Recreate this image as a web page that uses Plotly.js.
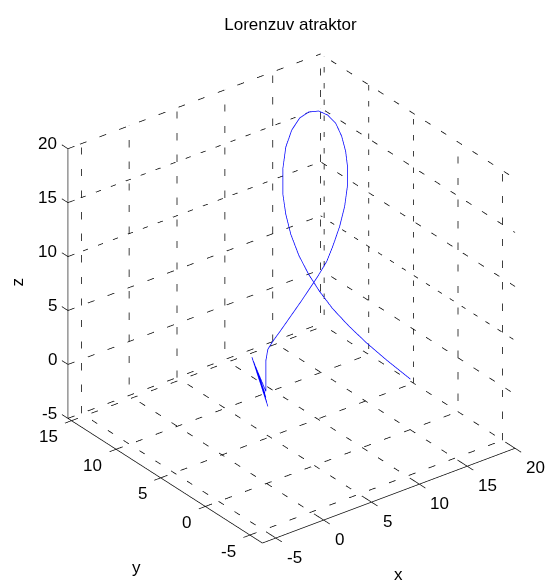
<!DOCTYPE html>
<html>
<head>
<meta charset="utf-8">
<script src="https://cdn.plot.ly/plotly-3.0.1.min.js"></script>
<style>html,body{margin:0;padding:0;background:#fff;}</style>
</head>
<body>
<div id="chart" style="width:547px;height:581px;"></div>
<script>
// Limits of the plot box
const xLim = [-6.4, 20];
const yLim = [-6.4, 15.4];
const zLim = [-5, 20];

// Tick values
const xTicks = [-5, 0, 5, 10, 15, 20];
const yTicks = [-5, 0, 5, 10, 15];
const zTicks = [-5, 0, 5, 10, 15, 20];

// Trajectory samples (x, y, z)
const trajX = [0.14, -1.53, 0.03, -1.32, -0.07, -1.11, -0.17, -1.43, -0.07, -0.07, -0.07,
  0.60, 1.59, 3.36, 5.02, 6.68, 8.34, 10.11, 11.87, 13.74, 15.30, 16.49, 17.48, 18.26,
  18.72, 18.98, 19.03, 18.87, 18.50, 17.57, 16.52, 15.12, 13.82, 12.73, 11.95, 11.49,
  11.33, 11.39, 11.76, 12.33, 13.01, 13.90, 15.10, 16.51, 18.13, 19.88];
const trajY = [0, 0, 0, 0, 0, 0, 0, 0, 0, 0, 0,
  0.5, 1, 2, 3, 4, 5, 6, 7, 8, 9, 9.5, 10, 10.5,
  11, 11.5, 12, 12.5, 13, 13, 13, 12.5, 12, 11.5, 11, 10.5,
  10, 9.5, 9, 8.5, 8, 7.5, 7, 6.5, 6, 5.2];
const trajZ = [2.09, 7.22, 2.50, 6.68, 3.00, 6.14, 3.41, 6.90, 3.56, 5.14, 6.45,
  6.98, 7.13, 7.03, 6.87, 6.71, 6.55, 6.54, 6.53, 6.77, 7.11, 8.30, 9.57, 11.09,
  12.25, 13.39, 14.51, 15.50, 16.11, 16.79, 17.05, 17.23, 16.81, 15.86, 14.34, 12.43,
  10.89, 9.27, 7.46, 5.76, 4.22, 2.60, 0.88, -0.91, -2.77, -4.70];

const FONT = 'Liberation Sans, Arial, Helvetica, sans-serif';
const PAD = 3;
const [x0, x1] = xLim, [y0, y1] = yLim, [z0, z1] = zLim;

// Collect line segments into one trace, separated by gaps
function segs() {
  const s = {x: [], y: [], z: []};
  s.add = function (p, q) {
    s.x.push(p[0], q[0], null); s.y.push(p[1], q[1], null); s.z.push(p[2], q[2], null);
  };
  s.poly = function (pts) {
    pts.forEach(p => { s.x.push(p[0]); s.y.push(p[1]); s.z.push(p[2]); });
    s.x.push(null); s.y.push(null); s.z.push(null);
  };
  return s;
}

// Grid lines on the floor and on the two back walls, sorted by direction
const alongY = [], alongX = [], alongZ = [];
xTicks.forEach(t => { alongY.push([[t, y0, z0], [t, y1, z0]]); alongZ.push([[t, y1, z0], [t, y1, z1]]); });
yTicks.forEach(t => { alongX.push([[x0, t, z0], [x1, t, z0]]); alongZ.push([[x1, t, z0], [x1, t, z1]]); });
zTicks.forEach(t => { alongX.push([[x0, y1, t], [x1, y1, t]]); alongY.push([[x1, y0, t], [x1, y1, t]]); });

// The GL dash pattern repeats a fixed number of times per trace, so the grid is
// split into traces of about four lines each to keep the dash length even.
const lines = [];
const nPair = Math.min(alongX.length, alongY.length);
for (let i = 0; i < nPair; i++) lines.push(alongX[i], alongY[i]);
lines.push(...alongX.slice(nPair), ...alongY.slice(nPair), ...alongZ);
const nGroups = Math.round(lines.length / 4);
const groups = Array.from({length: nGroups}, () => []);
lines.forEach((l, i) => groups[Math.floor(i * nGroups / lines.length)].push(l));

const base = {type: 'scatter3d', mode: 'lines', connectgaps: false, hoverinfo: 'skip', showlegend: false};
const traces = [];
groups.forEach(g => {
  const s = segs();
  g.forEach(l => s.add(l[0], l[1]));
  traces.push(Object.assign({x: s.x, y: s.y, z: s.z, line: {color: '#000000', width: 1.5, dash: 'dash'}}, base));
});

// Solid axis lines and tick marks
const axes = segs();
axes.add([x0, y0, z0], [x1, y0, z0]);
axes.add([x0, y0, z0], [x0, y1, z0]);
axes.add([x0, y1, z0], [x0, y1, z1]);
const TL = 0.68;
xTicks.forEach(t => axes.add([t, y0 - TL, z0], [t, y0 + TL, z0]));
yTicks.forEach(t => axes.add([x0 - TL, t, z0], [x0 + TL, t, z0]));
zTicks.forEach(t => axes.poly([[x0 + TL, y1, t], [x0, y1, t], [x0, y1 + TL, t]]));
traces.push(Object.assign({x: axes.x, y: axes.y, z: axes.z, line: {color: '#000000', width: 1.4}}, base));

// Trajectory
traces.push(Object.assign({x: trajX, y: trajY, z: trajZ, line: {color: '#0000ff', width: 1.5}}, base));

// Tick labels and axis titles placed at 3-D anchor points
const ann = [];
const lab = (x, y, z, text, xanchor, xs, ys, extra) =>
  ann.push(Object.assign({x, y, z, text, showarrow: false, xanchor, yanchor: 'middle',
    xshift: xs, yshift: ys, font: {family: FONT, size: 17, color: '#000'}}, extra || {}));
xTicks.forEach(t => lab(t, y0, z0, String(t), 'left', 9, -19));
yTicks.forEach(t => lab(x0, t, z0, String(t), 'right', -12, -16));
zTicks.forEach(t => lab(x0, y1, t, String(t), 'right', -9, 5));
lab((x0 + x1) / 2, y0, z0, 'x', 'center', 10, -79);
lab(x0, (y0 + y1) / 2, z0, 'y', 'center', -29, -87);
lab(x0, y1, (z0 + z1) / 2, 'z', 'center', -50, 2, {textangle: -90});

const ax = r => ({range: r, showgrid: false, zeroline: false, showline: false, showticklabels: false,
  ticks: '', showbackground: false, showspikes: false, title: {text: ''}});

const layout = {
  width: 547, height: 581,
  margin: {l: 36, r: 0, t: 16, b: 0},
  paper_bgcolor: '#fff',
  hovermode: false,
  title: {text: 'Lorenzuv atraktor', font: {family: FONT, size: 17, color: '#000'},
          xref: 'container', x: 0.531, xanchor: 'center', yref: 'container', y: 1 - 24 / 581, yanchor: 'middle'},
  scene: {
    domain: {x: [0, 1], y: [0, 1]},
    xaxis: ax([x0 - PAD, x1 + PAD]),
    yaxis: ax([y0 - PAD, y1 + PAD]),
    zaxis: ax([z0 - PAD, z1 + PAD]),
    aspectmode: 'manual',
    aspectratio: {x: (x1 - x0 + 2 * PAD) / (x1 - x0) * 1.126,
                  y: (y1 - y0 + 2 * PAD) / (y1 - y0) * 1.133,
                  z: (z1 - z0 + 2 * PAD) / (z1 - z0) * 1.0953},
    camera: {eye: {x: -0.905, y: -1.183, z: 0.838}, up: {x: 0, y: 0, z: 1}, center: {x: 0, y: 0, z: 0},
             projection: {type: 'orthographic'}},
    annotations: ann
  }
};

Plotly.newPlot('chart', traces, layout, {displayModeBar: false});
</script>
</body>
</html>
